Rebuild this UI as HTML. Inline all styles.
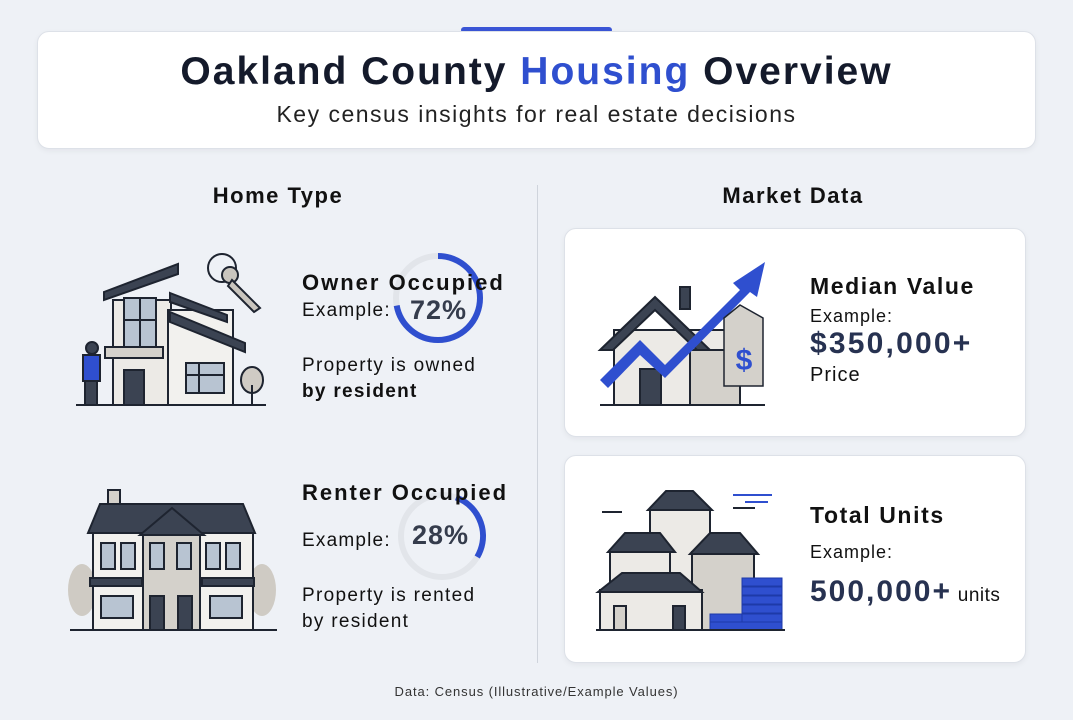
<!DOCTYPE html>
<html><head><meta charset="utf-8"><style>
*{margin:0;padding:0;box-sizing:border-box}
body{width:1073px;height:720px;background:#eef1f6;font-family:"Liberation Sans",sans-serif;position:relative;overflow:hidden;color:#111}
.a{position:absolute;white-space:nowrap}
.card{position:absolute;background:#fff;border:1px solid #dde1e8;border-radius:12px;box-shadow:0 2px 6px rgba(0,0,0,0.05)}
.b{font-weight:bold}
</style></head><body>
<div class="a" style="left:461px;top:27px;width:151px;height:6px;background:#3a55d6;border-radius:3px"></div>
<div class="card" style="left:37px;top:31px;width:999px;height:118px"></div>
<div class="a b" style="left:0;width:1073px;text-align:center;top:50px;font-size:39px;letter-spacing:2px;color:#141a2b">Oakland County <span style="color:#2f4fcf">Housing</span> Overview</div>
<div class="a" style="left:0;width:1073px;text-align:center;top:101px;font-size:23px;letter-spacing:1.5px;color:#222">Key census insights for real estate decisions</div>

<div class="a b" style="left:178px;width:200px;text-align:center;top:183px;font-size:22px;letter-spacing:1.5px">Home Type</div>
<div class="a b" style="left:693px;width:200px;text-align:center;top:183px;font-size:22px;letter-spacing:1.5px">Market Data</div>
<div class="a" style="left:537px;top:185px;width:1px;height:478px;background:#cfd4dc"></div>

<!-- owner house -->
<svg class="a" style="left:70px;top:250px" width="200" height="160" viewBox="70 250 200 160" fill="none" stroke="#1e2430" stroke-width="2">
<rect x="113" y="300" width="58" height="105" fill="#eceae6"/>
<polygon points="104,292 178,264 178,274 104,300" fill="#3b4352"/>
<rect x="168" y="310" width="65" height="95" fill="#f2f1ee"/>
<polygon points="170,293 227,315 227,322 170,302" fill="#3b4352"/>
<polygon points="170,312 245,343 245,352 170,322" fill="#3b4352"/>
<rect x="124" y="298" width="32" height="50" fill="#b8c4d2"/>
<line x1="140" y1="298" x2="140" y2="348"/><line x1="124" y1="320" x2="156" y2="320"/>
<rect x="105" y="347" width="58" height="11" fill="#d4d1cb"/>
<rect x="124" y="370" width="20" height="35" fill="#3b4352"/>
<rect x="186" y="363" width="38" height="30" fill="#b8c4d2"/>
<line x1="186" y1="375" x2="224" y2="375"/><line x1="199" y1="363" x2="199" y2="393"/>
<line x1="76" y1="405" x2="266" y2="405"/>
<circle cx="92" cy="348" r="6" fill="#3b4352"/>
<rect x="83" y="355" width="17" height="26" fill="#2f4fcf"/>
<rect x="85" y="381" width="12" height="24" fill="#3b4352"/>
<ellipse cx="252" cy="380" rx="11" ry="13" fill="#cfcbc4"/><line x1="252" y1="385" x2="252" y2="405"/>
<circle cx="222" cy="268" r="14"/><circle cx="230" cy="275" r="8" fill="#c9c5be"/>
<polygon points="232,280 260,308 254,312 228,286" fill="#c9c5be"/>
</svg>
<svg class="a" style="left:392px;top:252px" width="92" height="92"><circle cx="46" cy="46" r="42" stroke="#e2e5ea" stroke-width="6" fill="none"/><circle cx="46" cy="46" r="42" stroke="#2f4fcf" stroke-width="6" fill="none" stroke-dasharray="190 264" transform="rotate(-90 46 46)"/></svg>
<div class="a b" style="left:302px;top:270px;font-size:22px;letter-spacing:2px">Owner Occupied</div>
<div class="a" style="left:302px;top:300px;font-size:19px;letter-spacing:1.2px">Example:</div>
<div class="a b" style="left:410px;top:295px;font-size:27px;letter-spacing:1px;color:#353c4c">72%</div>
<div class="a" style="left:302px;top:353px;font-size:19px;line-height:26px;letter-spacing:1.3px">Property is owned<br><b>by resident</b></div>

<!-- renter house -->
<svg class="a" style="left:65px;top:485px" width="215" height="150" viewBox="65 485 215 150" fill="none" stroke="#1e2430" stroke-width="2">
<ellipse cx="82" cy="590" rx="14" ry="26" fill="#cfcbc4" stroke="none"/><ellipse cx="262" cy="590" rx="14" ry="26" fill="#cfcbc4" stroke="none"/>
<rect x="108" y="490" width="12" height="14" fill="#d4d1cb"/>
<rect x="93" y="530" width="160" height="100" fill="#f2f1ee"/>
<polygon points="88,533 100,504 243,504 255,533" fill="#3b4352"/>
<polygon points="143,630 143,533 172,510 200,533 200,630" fill="#d4d1cb"/>
<polygon points="140,535 172,508 204,535" fill="#3b4352"/>
<g fill="#b8c4d2"><rect x="101" y="543" width="14" height="26"/><rect x="121" y="543" width="14" height="26"/><rect x="150" y="543" width="14" height="26"/><rect x="177" y="543" width="14" height="26"/><rect x="206" y="543" width="14" height="26"/><rect x="226" y="543" width="14" height="26"/>
<rect x="101" y="596" width="32" height="22"/><rect x="210" y="596" width="32" height="22"/></g>
<rect x="90" y="578" width="52" height="8" fill="#3b4352"/><rect x="202" y="578" width="52" height="8" fill="#3b4352"/>
<rect x="150" y="596" width="14" height="34" fill="#3b4352"/><rect x="178" y="596" width="14" height="34" fill="#3b4352"/>
<line x1="70" y1="630" x2="277" y2="630"/>
</svg>
<svg class="a" style="left:396px;top:490px" width="92" height="92"><circle cx="46" cy="46" r="41" stroke="#e2e5ea" stroke-width="6" fill="none"/><circle cx="46" cy="46" r="41" stroke="#2f4fcf" stroke-width="6" fill="none" stroke-dasharray="72 257.6" transform="rotate(-70 46 46)"/></svg>
<div class="a b" style="left:302px;top:480px;font-size:22px;letter-spacing:2px">Renter Occupied</div>
<div class="a" style="left:302px;top:530px;font-size:19px;letter-spacing:1.2px">Example:</div>
<div class="a b" style="left:412px;top:520px;font-size:27px;letter-spacing:1px;color:#353c4c">28%</div>
<div class="a" style="left:302px;top:583px;font-size:19px;line-height:26px;letter-spacing:1.3px">Property is rented<br>by resident</div>

<!-- cards -->
<div class="card" style="left:564px;top:228px;width:462px;height:209px"></div>
<div class="card" style="left:564px;top:455px;width:462px;height:208px"></div>

<svg class="a" style="left:595px;top:255px" width="175" height="155" viewBox="595 255 175 155" fill="none" stroke="#1e2430" stroke-width="2">
<rect x="614" y="330" width="125" height="75" fill="#eceae6"/>
<rect x="690" y="350" width="50" height="55" fill="#d4d1cb"/>
<polygon points="600,350 655,297 710,350 697,350 655,310 613,350" fill="#3b4352"/>
<rect x="680" y="287" width="10" height="22" fill="#3b4352"/>
<rect x="640" y="369" width="21" height="36" fill="#3b4352"/>
<line x1="600" y1="405" x2="765" y2="405"/>
<polygon points="600,380 640,340 665,365 740,290 733,283 765,262 757,297 750,292 665,378 640,355 608,388" fill="#2f4fcf" stroke="none"/>
<polygon points="724,318 740,305 763,318 763,386 724,386" fill="#d4d1cb" stroke-width="1.5"/>
<text x="744" y="370" font-family="Liberation Sans" font-size="30" font-weight="bold" fill="#2f4fcf" stroke="none" text-anchor="middle">$</text>
</svg>
<div class="a b" style="left:810px;top:273px;font-size:23px;letter-spacing:1.6px">Median Value</div>
<div class="a" style="left:810px;top:306px;font-size:18px;letter-spacing:1px">Example:</div>
<div class="a b" style="left:810px;top:327px;font-size:30px;letter-spacing:2.2px;color:#273251">$350,000+</div>
<div class="a" style="left:810px;top:364px;font-size:20px;letter-spacing:1px">Price</div>

<svg class="a" style="left:595px;top:485px" width="195" height="150" viewBox="595 485 195 150" fill="none" stroke="#1e2430" stroke-width="2">
<rect x="650" y="510" width="60" height="80" fill="#eceae6"/><polygon points="648,510 666,491 693,491 712,510" fill="#3b4352"/>
<rect x="610" y="550" width="60" height="60" fill="#eceae6"/><polygon points="608,552 625,533 660,533 675,552" fill="#3b4352"/>
<rect x="692" y="552" width="62" height="78" fill="#d4d1cb"/><polygon points="690,554 710,533 740,533 758,554" fill="#3b4352"/>
<rect x="600" y="590" width="102" height="40" fill="#eceae6"/><polygon points="598,592 622,573 680,573 702,592" fill="#3b4352"/>
<rect x="614" y="606" width="12" height="24" fill="#d4d1cb"/><rect x="673" y="606" width="12" height="24" fill="#3b4352"/>
<g fill="#2f4fcf" stroke="#1e3aa8" stroke-width="1"><rect x="742" y="578" width="40" height="8"/><rect x="742" y="587" width="40" height="8"/><rect x="742" y="596" width="40" height="8"/><rect x="742" y="605" width="40" height="8"/><rect x="742" y="614" width="40" height="8"/><rect x="710" y="614" width="32" height="8"/><rect x="710" y="622" width="72" height="8"/></g>
<line x1="596" y1="630" x2="785" y2="630"/>
<line x1="602" y1="512" x2="622" y2="512"/><line x1="733" y1="495" x2="772" y2="495" stroke="#2f4fcf"/><line x1="745" y1="502" x2="768" y2="502" stroke="#2f4fcf"/><line x1="733" y1="508" x2="755" y2="508"/>
</svg>
<div class="a b" style="left:810px;top:502px;font-size:23px;letter-spacing:1.6px">Total Units</div>
<div class="a" style="left:810px;top:542px;font-size:18px;letter-spacing:1px">Example:</div>
<div class="a" style="left:810px;top:575px;font-size:30px;letter-spacing:2px;color:#273251;font-weight:bold">500,000+<span style="font-size:19px;font-weight:normal;color:#111;letter-spacing:0.5px"> units</span></div>

<div class="a" style="left:0;width:1073px;text-align:center;top:684px;font-size:13px;letter-spacing:0.9px;color:#333">Data: Census (Illustrative/Example Values)</div>
</body></html>
